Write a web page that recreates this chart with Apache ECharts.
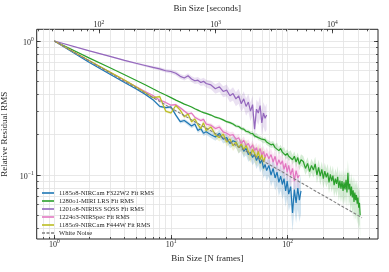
<!DOCTYPE html>
<html><head><meta charset="utf-8">
<script src="https://cdn.jsdelivr.net/npm/echarts@6/dist/echarts.min.js"></script>
<style>html,body{margin:0;padding:0;background:#fff}#c{width:389px;height:272px}</style>
</head><body><div id="c"></div>
<script>
// ---- data ----
const binSizes = [1,2,3,4,5,6,7,8,9,10,11,12,13,14,15,16,17,18,19,20,
  22,24,26,28,30,32,34,36,38,40,42,44,46,48,50,52,54,56,58,60,62,64,66,
  69,72,75,78,81,84,87,90,93,96,99,
  102,106,110,114,118,122,126,130,
  136,142,148,154,160,166,172,178,184,190,196,202,208,214,220,226,232,238,244,250,
  256,262,268,274,280,286,292,298,304,310,316,322,328,334,340,346,352,358,364,370,
  376,382,388,394,400,406,412,418];

const rmsNircamF322W2 = [1,0.69,0.565,0.49,0.44,0.40,0.365,0.325,0.318,0.322,0.28,0.25,0.255,0.243,0.232,0.24,0.215,0.222,0.205,0.21,
  0.2,0.192,0.205,0.185,0.19,0.172,0.18,0.176,0.16,0.168,0.15,0.158,0.142,0.148,0.135,0.143,0.128,0.138,0.122,0.13,0.112,0.12,0.108,
  0.118,0.1,0.112,0.095,0.105,0.088,0.098,0.085,0.094,0.076,0.09,
  0.072,0.082,0.052,0.078,0.062,0.08,0.065,0.076];

const rmsMiriLrs = [1,0.745,0.632,0.56,0.51,0.472,0.44,0.415,0.395,0.378,0.362,0.35,0.338,0.33,0.322,0.312,0.305,0.298,0.292,0.288,
  0.28,0.27,0.265,0.258,0.25,0.246,0.24,0.232,0.23,0.222,0.22,0.212,0.21,0.205,0.204,0.196,0.198,0.19,0.188,0.185,0.18,0.183,0.176,
  0.172,0.168,0.17,0.16,0.165,0.152,0.158,0.148,0.152,0.14,0.145,
  0.138,0.142,0.13,0.138,0.125,0.135,0.12,0.13,
  0.126,0.112,0.122,0.106,0.118,0.109,0.121,0.1,0.114,0.098,0.11,0.094,0.107,0.096,0.104,0.088,
  0.101,0.09,0.099,0.084,0.094,0.086,0.097,0.08,0.091,0.079,0.09,0.076,0.088,0.078,0.092,0.074,
  0.104,0.078,0.086,0.07,0.082,0.068,0.077,0.063,0.074,0.065,0.071,0.061,0.068,0.057,0.062,0.05];

const rmsNirissSoss = [1,0.845,0.768,0.716,0.682,0.656,0.635,0.62,0.6,0.592,0.575,0.545,0.53,0.55,0.52,0.505,0.51,0.49,0.5,0.482,
  0.47,0.44,0.455,0.42,0.43,0.39,0.405,0.37,0.39,0.34,0.37,0.325,0.35,0.3,0.335,0.22,0.31,0.29,0.33,0.245,0.29,0.265,0.28];

const rmsNirspec = [1,0.712,0.585,0.508,0.458,0.42,0.392,0.362,0.348,0.332,0.335,0.318,0.3,0.285,0.29,0.27,0.262,0.255,0.26,0.24,
  0.235,0.222,0.228,0.21,0.205,0.198,0.2,0.185,0.19,0.172,0.182,0.165,0.172,0.158,0.168,0.152,0.16,0.145,0.158,0.14,0.15,0.135,0.145,
  0.132,0.142,0.125,0.138,0.118,0.13,0.12,0.128,0.11,0.122,0.105,
  0.118,0.1,0.112,0.09,0.108,0.095,0.1];

const rmsNircamF444W = [1,0.712,0.586,0.512,0.456,0.412,0.378,0.385,0.3,0.29,0.33,0.305,0.272,0.285,0.25,0.262,0.238,0.222,0.245,0.215,
  0.228,0.2,0.19,0.202,0.176,0.186,0.165,0.176,0.16,0.17,0.155,0.166,0.15,0.14,0.155,0.145,0.135,0.15,0.13,0.142,0.125,0.136];

const whiteNoiseX = [1, 433];
const whiteNoiseY = [1, 0.048];

const seriesNames = ['1185o8-NIRCam F322W2 Fit RMS','1280o1-MIRI LRS Fit RMS','1201o8-NIRISS SOSS Fit RMS',
  '1224o3-NIRSpec Fit RMS','1185o9-NIRCam F444W Fit RMS'];
const whiteNoiseName = 'White Noise';
const seriesColors = ['#1f77b4','#2ca02c','#9467bd','#e377c2','#bcbd22'];
const bandColors = ['rgba(31,119,180,0.2)','rgba(44,160,44,0.2)','rgba(148,103,189,0.2)','rgba(227,119,194,0.2)','rgba(188,189,34,0.2)'];
// bin size at which the shaded uncertainty band reaches +/-100 % (band half-width grows with bin size)
const errorBandScale = [400, 1333, 300, 600, 400];

const frameMajorTicks = [1, 10, 100];
const secondMajorTicks = [100, 1000, 10000];
const rmsMajorTicks = [0.1, 1];
const secondsPerFrame = 41.5;

// ---- chart ----
const FONT = 'Liberation Serif';
const INK = '#262626';
const frameMin = 0.7066, frameMax = 594;
const rmsMin = 0.0333, rmsMax = 1.2226;

function decadeTicks(lo, hi) {
  const out = [];
  for (let k = -3; k <= 6; k++) for (let m = 1; m <= 9; m++) {
    const v = Number((m * Math.pow(10, k)).toPrecision(6));
    if (v >= lo && v <= hi) out.push(v);
  }
  return out;
}
function powLabel(v) {
  const e = Math.round(Math.log10(v));
  return '{b|10}{s|' + (e < 0 ? '\u2212' + Math.abs(e) : String(e)) + '}';
}
const labelRich = {
  b: {fontFamily: FONT, fontSize: 8, color: INK, lineHeight: 9, padding: [3, 0, 0, 0]},
  s: {fontFamily: FONT, fontSize: 5.5, color: INK, lineHeight: 7, verticalAlign: 'top'}
};
const nameStyle = {fontFamily: FONT, fontSize: 9, color: INK};
const tickStyle = {color: INK, width: 0.8};
const gridStyle = {color: '#e2e2e2', width: 0.8};

function logAxis(pos, min, max, opts) {
  return Object.assign({
    type: 'log', logBase: 10, position: pos, min: min, max: max,
    axisLine: {show: false},
    axisTick: {show: false},
    axisLabel: {show: false},
    splitLine: {show: false}
  }, opts);
}
function majorTicks(vals) { return {show: true, inside: true, length: 4, customValues: vals, lineStyle: tickStyle}; }
function minorTicks(vals) { return {show: true, inside: true, length: 2, customValues: vals, lineStyle: tickStyle}; }
function labels(vals, margin) { return {show: true, customValues: vals, formatter: powLabel, rich: labelRich, margin: margin}; }

const secMin = frameMin * secondsPerFrame, secMax = frameMax * secondsPerFrame;
const frameAll = decadeTicks(frameMin, frameMax);
const secAll = decadeTicks(secMin, secMax);
const rmsAll = decadeTicks(rmsMin, rmsMax);

const xAxes = [
  logAxis('bottom', frameMin, frameMax, {axisTick: majorTicks(frameMajorTicks), axisLabel: labels(frameMajorTicks, 0),
    name: 'Bin Size [N frames]', nameLocation: 'middle', nameGap: 13, nameTextStyle: nameStyle}),
  logAxis('top', secMin, secMax, {axisTick: majorTicks(secondMajorTicks), axisLabel: labels(secondMajorTicks, 1),
    name: 'Bin Size [seconds]', nameLocation: 'middle', nameGap: 10, nameTextStyle: nameStyle}),
  logAxis('bottom', frameMin, frameMax, {axisTick: minorTicks(frameAll), splitLine: {show: true, lineStyle: gridStyle}}),
  logAxis('top', secMin, secMax, {axisTick: minorTicks(secAll)})
];
const yAxes = [
  logAxis('left', rmsMin, rmsMax, {axisTick: majorTicks(rmsMajorTicks), axisLabel: labels(rmsMajorTicks, 3),
    name: 'Relative Residual RMS', nameLocation: 'middle', nameGap: 19, nameTextStyle: nameStyle}),
  logAxis('right', rmsMin, rmsMax, {axisTick: majorTicks(rmsMajorTicks)}),
  logAxis('left', rmsMin, rmsMax, {axisTick: minorTicks(rmsAll), splitLine: {show: true, lineStyle: gridStyle}}),
  logAxis('right', rmsMin, rmsMax, {axisTick: minorTicks(rmsAll)})
];

const allRms = [rmsNircamF322W2, rmsMiriLrs, rmsNirissSoss, rmsNirspec, rmsNircamF444W];

function bandSeries(ys, scale, color) {
  const data = ys.map((y, i) => {
    const x = binSizes[i];
    const f = Math.min(0.6, x / scale);
    return [x, y * (1 - f), y * (1 + f)];
  });
  return {
    type: 'custom', xAxisIndex: 0, yAxisIndex: 0, clip: true, silent: true, z: 1,
    data: data, encode: {x: 0, y: [1, 2]},
    renderItem: function (params, api) {
      if (params.dataIndex !== 0) return null;
      const pts = [];
      for (let i = 0; i < data.length; i++) pts.push(api.coord([data[i][0], data[i][2]]));
      for (let i = data.length - 1; i >= 0; i--) pts.push(api.coord([data[i][0], data[i][1]]));
      return {type: 'polygon', shape: {points: pts}, style: {fill: color}};
    }
  };
}

const series = [];
allRms.forEach((ys, k) => series.push(bandSeries(ys, errorBandScale[k], bandColors[k])));
allRms.forEach((ys, k) => series.push({
  type: 'line', name: seriesNames[k], xAxisIndex: 0, yAxisIndex: 0, z: 2,
  data: ys.map((y, i) => [binSizes[i], y]),
  symbol: 'none', clip: true,
  lineStyle: {color: seriesColors[k], width: 1.2}, itemStyle: {color: seriesColors[k]}
}));
series.push({
  type: 'line', name: whiteNoiseName, xAxisIndex: 0, yAxisIndex: 0, z: 3,
  data: whiteNoiseX.map((x, i) => [x, whiteNoiseY[i]]),
  symbol: 'none', clip: true,
  lineStyle: {color: '#7f7f7f', width: 1.1, type: [3, 1.6]}, itemStyle: {color: '#7f7f7f'}
});

const legendData = seriesNames.map(n => ({name: n, icon: 'rect'}))
  .concat([{name: whiteNoiseName, icon: 'path://M0,0H3V1.6H0Z M4.5,0H7.5V1.6H4.5Z M9,0H12V1.6H9Z'}]);

const chart = echarts.init(document.getElementById('c'), null, {renderer: 'canvas'});
chart.setOption({
  animation: false,
  backgroundColor: '#fff',
  grid: {left: 36.7, right: 11, top: 29.3, bottom: 33, show: true, borderColor: INK, borderWidth: 1,
    backgroundColor: 'transparent', containLabel: false, outerBoundsMode: 'none'},
  legend: {
    data: legendData,
    orient: 'vertical', left: 42, top: 189.5, itemWidth: 12, itemHeight: 1.6, itemGap: 1,
    padding: 0,
    textStyle: {fontFamily: FONT, fontSize: 6.6, color: INK, lineHeight: 6}
  },
  xAxis: xAxes,
  yAxis: yAxes,
  series: series
});
</script></body></html>
